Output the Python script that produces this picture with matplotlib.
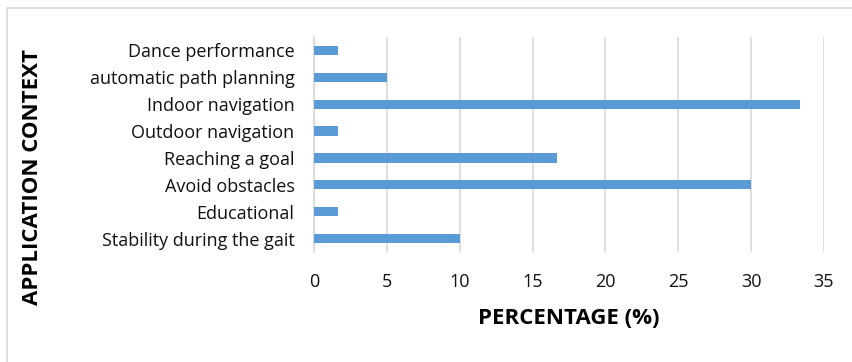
import matplotlib.pyplot as plt
from matplotlib.patches import Rectangle

contextos = [
    "Dance performance", "automatic path planning", "Indoor navigation",
    "Outdoor navigation", "Reaching a goal", "Avoid obstacles",
    "Educational", "Stability during the gait"
]
percentagens = [1.67, 5.0, 33.33, 1.67, 16.67, 30.0, 1.67, 10.0]
x_ticks = [0, 5, 10, 15, 20, 25, 30, 35]

plt.rcParams['font.family'] = ['Open Sans', 'DejaVu Sans']

fig = plt.figure(figsize=(8.53, 3.62), dpi=100)
ax = fig.add_axes([314 / 853, 1 - 252 / 362, 510 / 853, 215 / 362])

# figure border (only top/left visible in the original crop)
fig.patches.append(Rectangle((7 / 853, -0.1), 1.2, 1 - 8 / 362 + 0.1,
                             transform=fig.transFigure, fill=False,
                             edgecolor='#D9D9D9', linewidth=1.2))

pos = list(range(len(contextos)))[::-1]
ax.barh(pos, percentagens, height=0.34, color='#5B9BD5', zorder=3)

ax.set_xlim(0, 35)
ax.set_ylim(-0.5, 7.5)
ax.set_xticks(x_ticks)
ax.set_yticks(pos)
ax.set_yticklabels(contextos, fontsize=13, color='#111111')
ax.tick_params(axis='x', labelsize=13, colors='#111111', length=0, pad=15)
ax.tick_params(axis='y', length=0, pad=14)
ax.grid(axis='x', color='#D9D9D9', linewidth=1.2, zorder=0)

for s in ['top', 'right', 'bottom']:
    ax.spines[s].set_visible(False)
ax.spines['left'].set_color('#D9D9D9')
ax.spines['left'].set_linewidth(1.2)

ax.set_xlabel('PERCENTAGE (%)', fontsize=16, fontweight='bold', labelpad=12)
fig.text(33 / 853, 1 - 177 / 362, 'APPLICATION CONTEXT', rotation=90,
         fontsize=16, fontweight='bold', ha='center', va='center')

plt.savefig('out.png', dpi=100)
